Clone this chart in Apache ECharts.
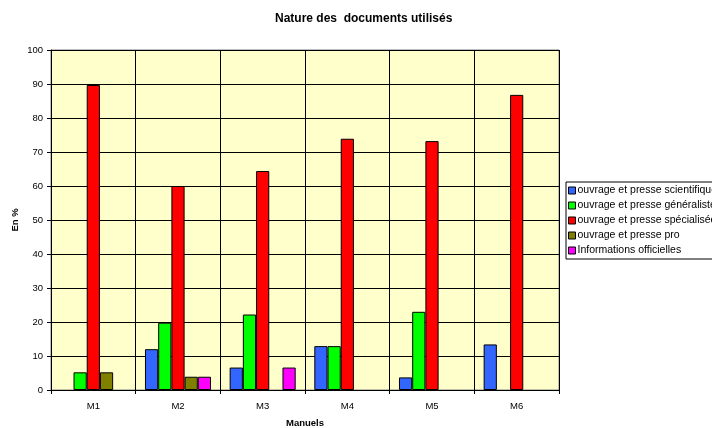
<!DOCTYPE html>
<html>
<head>
<meta charset="utf-8">
<script src="https://cdn.jsdelivr.net/npm/echarts@6/dist/echarts.min.js"></script>
<style>
  html, body { margin: 0; padding: 0; background: #fff; }
  #chart { width: 712px; height: 428px; }
</style>
</head>
<body>
<div id="chart"></div>
<script>
var manuels = ['M1', 'M2', 'M3', 'M4', 'M5', 'M6'];
var scientifique = [null, 12, 6.6, 12.9, 3.7, 13.4];
var generaliste = [5.2, 19.8, 22.2, 12.9, 23, null];
var specialisee = [89.7, 60, 64.4, 73.9, 73.2, 86.8];
var pro = [5.2, 3.9, null, null, null, null];
var officielles = [null, 3.9, 6.6, null, null, null];
var yTicks = [0, 10, 20, 30, 40, 50, 60, 70, 80, 90, 100];

var chartDom = document.getElementById('chart');
var myChart = echarts.init(chartDom);

function barSerie (name, color, data) {
  return {
    name: name,
    type: 'bar',
    data: data,
    barGap: 0,
    barCategoryGap: '22%',
    itemStyle: { color: color, borderColor: '#000', borderWidth: 1 },
    animation: false
  };
}

var option = {
  textStyle: { fontFamily: 'Liberation Sans, Arial, sans-serif' },
  title: {
    text: 'Nature des  documents utilisés',
    left: 270,
    top: 8,
    textStyle: { fontSize: 12, fontWeight: 'bold', color: '#000' }
  },
  grid: {
    left: 51,
    right: 153,
    top: 50,
    bottom: 38,
    containLabel: false,
    outerBoundsMode: 'none',
    show: true,
    backgroundColor: '#FFFFCC',
    borderColor: '#808080',
    borderWidth: 1
  },
  legend: {
    orient: 'vertical',
    left: 566,
    top: 182,
    itemWidth: 7,
    itemHeight: 7,
    itemGap: 4,
    padding: [3, 3, 3, 2],
    borderColor: '#000',
    borderWidth: 1,
    icon: 'rect',
    textStyle: { fontSize: 10.5, color: '#000', padding: [0, 0, 0, -3] },
    data: [
      { name: 'ouvrage et presse scientifique', itemStyle: { borderColor: '#000', borderWidth: 1 } },
      { name: 'ouvrage et presse généraliste', itemStyle: { borderColor: '#000', borderWidth: 1 } },
      { name: 'ouvrage et presse spécialisée', itemStyle: { borderColor: '#000', borderWidth: 1 } },
      { name: 'ouvrage et presse pro', itemStyle: { borderColor: '#000', borderWidth: 1 } },
      { name: 'Informations officielles', itemStyle: { borderColor: '#000', borderWidth: 1 } }
    ]
  },
  xAxis: {
    type: 'category',
    data: manuels,
    name: 'Manuels',
    nameLocation: 'middle',
    nameGap: 28,
    nameMoveOverlap: false,
    nameTextStyle: { fontSize: 9.5, fontWeight: 'bold', color: '#000' },
    axisLine: { lineStyle: { color: '#000' } },
    axisTick: { show: true, length: 4, lineStyle: { color: '#000' } },
    axisLabel: { fontSize: 9.5, color: '#000', margin: 11 },
    splitLine: { show: true, lineStyle: { color: '#000', width: 1 } }
  },
  yAxis: {
    type: 'value',
    min: 0,
    max: 100,
    interval: 10,
    name: 'En %',
    nameLocation: 'middle',
    nameRotate: 90,
    nameGap: 31,
    nameMoveOverlap: false,
    nameTextStyle: { fontSize: 9.5, fontWeight: 'bold', color: '#000' },
    axisLine: { show: true, lineStyle: { color: '#000' } },
    axisTick: { show: true, length: 4, lineStyle: { color: '#000' } },
    axisLabel: {
      fontSize: 9.5, color: '#000', margin: 8,
      formatter: function (v) { return yTicks.indexOf(v) >= 0 ? String(v) : ''; }
    },
    splitLine: { show: true, lineStyle: { color: '#000', width: 1 } }
  },
  series: [
    barSerie('ouvrage et presse scientifique', '#3366FF', scientifique),
    barSerie('ouvrage et presse généraliste', '#00FF00', generaliste),
    barSerie('ouvrage et presse spécialisée', '#FF0000', specialisee),
    barSerie('ouvrage et presse pro', '#808000', pro),
    barSerie('Informations officielles', '#FF00FF', officielles)
  ]
};

myChart.setOption(option);
</script>
</body>
</html>
